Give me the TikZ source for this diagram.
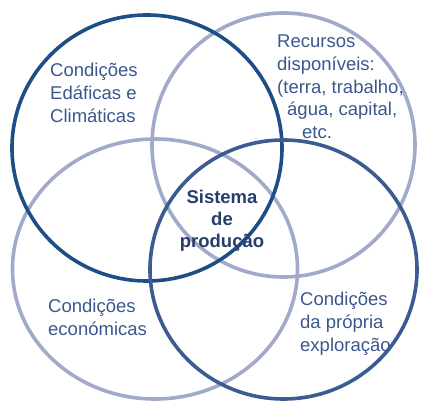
\documentclass[tikz,border=0pt]{standalone}
\usepackage{fontspec}
\setmainfont{Liberation Sans}
\definecolor{darkA}{RGB}{30,78,134}
\definecolor{darkB}{RGB}{58,92,145}
\definecolor{lightC}{RGB}{162,170,201}
\definecolor{txtblue}{RGB}{58,88,142}
\definecolor{txtdark}{RGB}{38,62,108}
\tikzset{
  ring/.style={line width=3.6pt},
  lbl/.style={anchor=base west, inner sep=0pt, text=txtblue, font=\fontsize{18.5}{22.6}\selectfont},
  ctr/.style={anchor=base, inner sep=0pt, text=txtdark, font=\bfseries\fontsize{18.5}{22}\selectfont}
}
\begin{document}
\begin{tikzpicture}[x=1pt,y=-1pt]
\useasboundingbox (0,0) rectangle (421,406);
% light circles
\draw[ring,lightC] (283.5,145) ellipse [x radius=131.5pt, y radius=132pt];
\draw[ring,lightC] (155,269) ellipse [x radius=142.5pt, y radius=130pt];
% dark circles
\draw[ring,darkA] (147,148) ellipse [x radius=135pt, y radius=133pt];
\draw[ring,darkB] (283.5,269.5) ellipse [x radius=133.5pt, y radius=129.5pt];
% labels
\node[lbl] (tl) at (50,77) {\begin{tabular}[t]{@{}l@{}}Condições\\Edáficas e\\Climáticas\end{tabular}};
\node[lbl] (tr) at (277,48) {\begin{tabular}[t]{@{}l@{}}Recursos\\disponíveis:\\(terra, trabalho,\\\hspace*{10pt}água, capital,\\\hspace*{25pt}etc.\end{tabular}};
\node[ctr] (c) at (222,204) {\begin{tabular}[t]{@{}c@{}}Sistema\\de\\produção\end{tabular}};
\node[lbl] (bl) at (48,313) {\begin{tabular}[t]{@{}l@{}}Condições\\económicas\end{tabular}};
\node[lbl] (br) at (300,306) {\begin{tabular}[t]{@{}l@{}}Condições\\da própria\\exploração\end{tabular}};
\end{tikzpicture}
\end{document}
